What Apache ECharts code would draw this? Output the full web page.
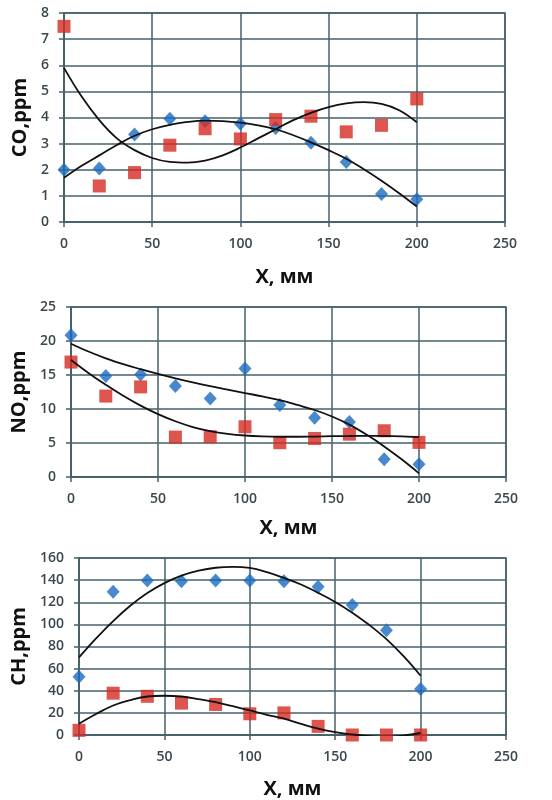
<!DOCTYPE html>
<html lang="en" style="height: 100%">
<head>
  <meta charset="utf-8">
</head>
<body style="height: 100%; margin: 0; background: #fff">
  <div id="container" style="width: 552px; height: 800px"></div>
  <script type="text/javascript" src="https://fastly.jsdelivr.net/npm/echarts@6/dist/echarts.min.js"></script>
  <script type="text/javascript">
    // measured points, x in mm
    var xVals = [0, 20, 40, 60, 80, 100, 120, 140, 160, 180, 200];
    var xTrend = [0, 10, 20, 30, 40, 50, 60, 70, 80, 90, 100, 110, 120, 130, 140, 150, 160, 170, 180, 190, 200];

    // CO, ppm
    var coBlue = [2.0, 2.05, 3.35, 3.95, 3.86, 3.76, 3.6, 3.03, 2.3, 1.07, 0.87];
    var coRed = [7.49, 1.38, 1.89, 2.94, 3.57, 3.18, 3.92, 4.05, 3.45, 3.7, 4.71];
    var coBlueTrend = [1.69, 2.15, 2.55, 2.95, 3.3, 3.55, 3.72, 3.83, 3.88, 3.86, 3.8, 3.7, 3.55, 3.32, 3.05, 2.75, 2.42, 2.02, 1.58, 1.1, 0.59];
    var coRedTrend = [5.9, 4.8, 3.9, 3.2, 2.75, 2.45, 2.3, 2.27, 2.35, 2.55, 2.85, 3.2, 3.55, 3.9, 4.18, 4.4, 4.54, 4.59, 4.52, 4.28, 3.82];

    // NO, ppm
    var noBlue = [20.84, 14.87, 15.07, 13.4, 11.55, 15.95, 10.57, 8.7, 8.1, 2.6, 1.86];
    var noRed = [16.9, 11.9, 13.25, 5.87, 5.92, 7.39, 5.04, 5.67, 6.3, 6.8, 5.09];
    var noBlueTrend = [19.6, 18.45, 17.45, 16.6, 15.85, 15.15, 14.5, 13.9, 13.35, 12.85, 12.35, 11.85, 11.3, 10.6, 9.85, 8.9, 7.7, 6.2, 4.5, 2.6, 0.54];
    var noRedTrend = [17.2, 15.3, 13.55, 11.95, 10.5, 9.25, 8.2, 7.35, 6.75, 6.35, 6.1, 5.97, 5.92, 5.92, 5.95, 6.0, 6.03, 6.05, 6.03, 5.97, 5.87];

    // CH, ppm
    var chBlue = [52.7, 129.4, 139.6, 139, 139.6, 139.6, 139, 134, 117.5, 94.7, 41.6];
    var chRed = [4.2, 37.8, 35, 28.8, 27.6, 19.2, 20, 7.8, 0, 0, 0];
    var chBlueTrend = [70.1, 87.3, 103, 116.8, 128.3, 137.3, 144, 148.5, 151.2, 152, 151, 147.2, 142, 136, 128.5, 120.3, 110.6, 99.4, 86.6, 71.2, 53.6];
    var chRedTrend = [10.2, 19, 26.7, 31.5, 34.8, 35.5, 34.8, 32.5, 29.7, 26, 22.2, 18.3, 14.7, 10, 5.7, 2.5, 0.5, -1, -1.5, -0.5, 1.8];

    var gridColor = '#46606a';
    var textColor = '#3a484e';
    var font = 'Open Sans';

    function pairs(xs, ys) {
      return xs.map(function (x, i) { return [x, ys[i]]; });
    }

    function xAxis(idx, gap) {
      return {
        type: 'value', gridIndex: idx, min: 0, max: 250, interval: 50,
        name: 'X, мм', nameLocation: 'middle', nameGap: gap,
        nameTextStyle: { fontFamily: font, fontWeight: 'bold', fontSize: 20, color: '#111' },
        axisLine: { show: true, onZero: false, lineStyle: { color: gridColor, width: 1.5 } },
        axisTick: { show: true, length: 5, lineStyle: { color: gridColor, width: 1.5 } },
        axisLabel: { margin: 15, fontFamily: font, fontSize: 14, fontWeight: 600, color: textColor },
        splitLine: { show: true, lineStyle: { color: gridColor, width: 1.5 } }
      };
    }

    function yAxis(idx, name, max, interval, gap) {
      return {
        type: 'value', gridIndex: idx, min: 0, max: max, interval: interval,
        name: name, nameLocation: 'middle', nameRotate: 90, nameGap: gap,
        nameTextStyle: { fontFamily: font, fontWeight: 'bold', fontSize: 20, color: '#111' },
        axisLine: { show: true, lineStyle: { color: gridColor, width: 1.5 } },
        axisTick: { show: true, length: 5, lineStyle: { color: gridColor, width: 1.5 } },
        axisLabel: { margin: 15, fontFamily: font, fontSize: 14, fontWeight: 600, color: textColor },
        splitLine: { show: true, lineStyle: { color: gridColor, width: 1.5 } }
      };
    }

    function blueSeries(idx, ys) {
      return {
        type: 'scatter', xAxisIndex: idx, yAxisIndex: idx, data: pairs(xVals, ys),
        symbol: 'diamond', symbolSize: [13, 14], z: 3,
        itemStyle: { color: '#1a6cc2' }
      };
    }

    function redSeries(idx, ys) {
      return {
        type: 'scatter', xAxisIndex: idx, yAxisIndex: idx, data: pairs(xVals, ys),
        symbol: 'rect', symbolSize: 13, z: 4,
        itemStyle: { color: '#d42a22' }
      };
    }

    function trendSeries(idx, ys) {
      return {
        type: 'line', xAxisIndex: idx, yAxisIndex: idx, data: pairs(xTrend, ys),
        smooth: 0.4, showSymbol: false, clip: true, z: 5,
        lineStyle: { color: '#111', width: 1.8 }
      };
    }

    var myChart = echarts.init(document.getElementById('container'), null, { renderer: 'canvas' });

    var option = {
      backgroundColor: '#fff',
      animation: false,
      grid: [
        { left: 64, top: 13, width: 441, height: 209, show: true, borderColor: gridColor, borderWidth: 1.5 },
        { left: 71, top: 307, width: 435, height: 170, show: true, borderColor: gridColor, borderWidth: 1.5 },
        { left: 79, top: 558, width: 427, height: 178, show: true, borderColor: gridColor, borderWidth: 1.5 }
      ],
      xAxis: [xAxis(0, 45), xAxis(1, 41), xAxis(2, 44)],
      yAxis: [
        yAxis(0, 'CO,ppm', 8, 1, 29),
        yAxis(1, 'NO,ppm', 25, 5, 36),
        yAxis(2, 'CH,ppm', 160, 20, 44)
      ],
      series: [
        blueSeries(0, coBlue), redSeries(0, coRed), trendSeries(0, coBlueTrend), trendSeries(0, coRedTrend),
        blueSeries(1, noBlue), redSeries(1, noRed), trendSeries(1, noBlueTrend), trendSeries(1, noRedTrend),
        blueSeries(2, chBlue), redSeries(2, chRed), trendSeries(2, chBlueTrend), trendSeries(2, chRedTrend)
      ]
    };

    myChart.setOption(option);
    window.addEventListener('resize', myChart.resize);
  </script>
</body>
</html>
